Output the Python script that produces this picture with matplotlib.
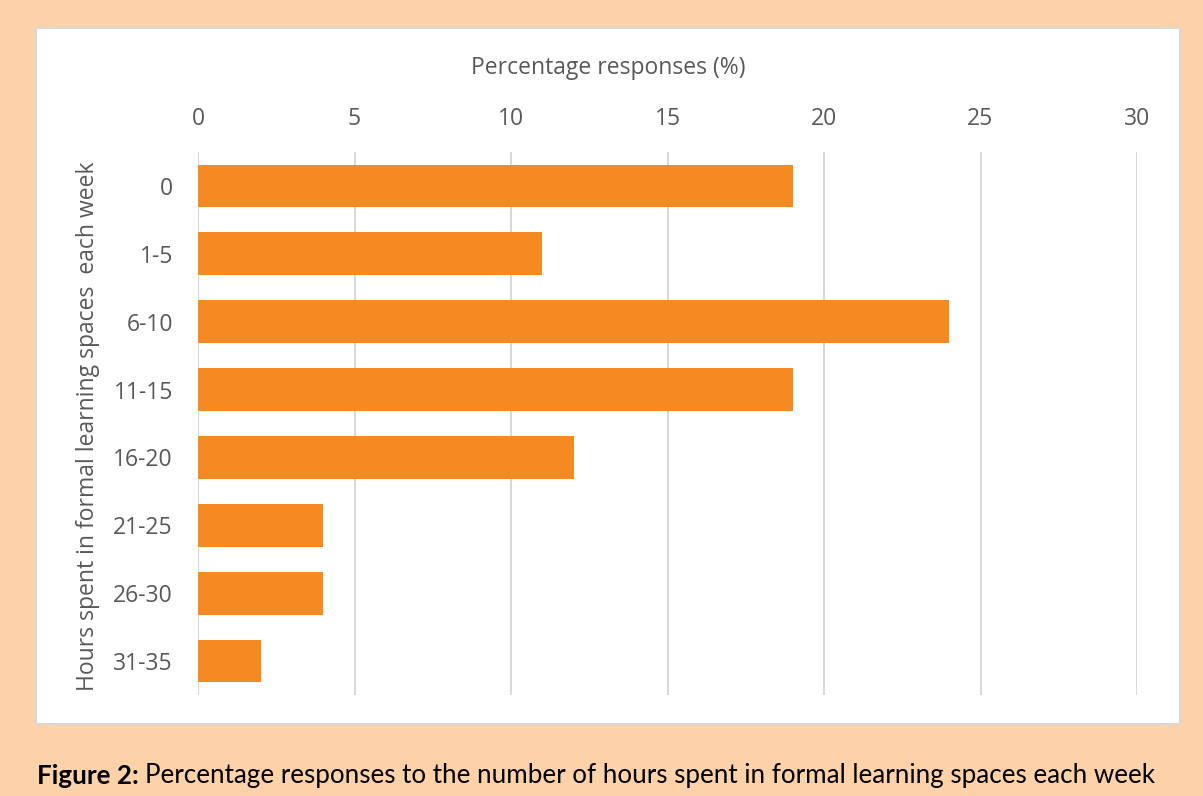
import matplotlib
matplotlib.use("Agg")
import matplotlib.pyplot as plt
from matplotlib.patches import Rectangle

categories = ["0", "1-5", "6-10", "11-15", "16-20", "21-25", "26-30", "31-35"]
values = [19, 11, 24, 19, 12, 4, 4, 2]
xticks = [0, 5, 10, 15, 20, 25, 30]

W, H = 1203, 796
fig = plt.figure(figsize=(W / 100, H / 100), dpi=100)
fig.patch.set_facecolor("#FDD2A8")

# white chart panel
fig.patches.append(Rectangle((36 / W, 1 - 724 / H), (1180 - 36) / W, (724 - 28) / H,
                             transform=fig.transFigure, facecolor="white",
                             edgecolor="#D9D9D9", linewidth=1.5, zorder=-5))

ax = fig.add_axes([198 / W, 1 - 695 / H, (1137 - 198) / W, (695 - 152) / H])
ax.set_zorder(2)
ax.set_facecolor("none")
ypos = list(range(len(categories)))
ax.barh(ypos, values, height=0.63, color="#F48A21", zorder=3)
ax.set_ylim(len(categories) - 0.5, -0.5)
ax.set_xlim(0, 30)
ax.set_xticks(xticks)
ax.set_yticks(ypos)
ax.set_yticklabels(categories)
ax.xaxis.tick_top()
for s in ax.spines.values():
    s.set_visible(False)
ax.grid(axis="x", color="#D9D9D9", linewidth=1.5, zorder=0)
ax.tick_params(axis="both", length=0, labelsize=16.5, labelcolor="#595959")
ax.tick_params(axis="x", pad=15)
ax.tick_params(axis="y", pad=18)
for lab in ax.get_xticklabels() + ax.get_yticklabels():
    lab.set_fontfamily("Open Sans")

fig.text(608 / W, 1 - 68 / H, "Percentage responses (%)", ha="center", va="center",
         fontsize=16.5, color="#595959", family="Open Sans")
fig.text(88 / W, 1 - 426 / H, "Hours spent in formal learning spaces  each week",
         ha="center", va="center", rotation=90, fontsize=16.5, color="#595959",
         family="Open Sans")

t1 = fig.text(37 / W, 1 - 776 / H, "Figure 2:", ha="left", va="center", fontsize=18.7,
              family="Lato", weight="bold", color="black")
fig.canvas.draw()
bb = t1.get_window_extent()
fig.text((bb.x1 + 6) / W, 1 - 776 / H,
         "Percentage responses to the number of hours spent in formal learning spaces each week",
         ha="left", va="center", fontsize=18.7, family="Lato", color="black")

fig.savefig("out.png", dpi=100, facecolor=fig.get_facecolor())
